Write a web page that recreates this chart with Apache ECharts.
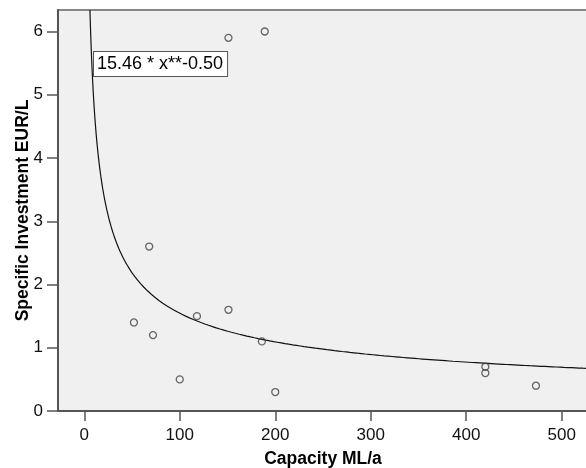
<!DOCTYPE html>
<html>
<head>
  <meta charset="UTF-8">
  <script src="https://cdn.jsdelivr.net/npm/echarts@6/dist/echarts.min.js"></script>
  <style>
    html, body { margin: 0; padding: 0; background: #fff; }
  </style>
</head>
<body>
  <div id="main" style="width: 586px; height: 468px;"></div>
  <script type="text/javascript">
    // observed points (capacity ML/a, specific investment EUR/L)
    var capacity   = [52, 68, 72, 100, 118, 151, 151, 186, 189, 200, 420, 420, 473];
    var investment = [1.4, 2.6, 1.2, 0.5, 1.5, 1.6, 5.9, 1.1, 6.0, 0.3, 0.7, 0.6, 0.4];

    // power fit shown in the chart: y = a * x ** b
    var fitA = 15.46;
    var fitB = -0.50;

    var xTicks = [0, 100, 200, 300, 400, 500];
    var yTicks = [0, 1, 2, 3, 4, 5, 6];

    var points = capacity.map(function (c, i) { return [c, investment[i]]; });

    var xMin = -27.5, xMax = 527.5, yMax = 6.34;
    var curve = [];
    var xStart = Math.pow(yMax / fitA, 1 / fitB);
    for (var x = xStart; x <= xMax; x += (x < 60 ? 0.25 : 2)) {
      curve.push([x, fitA * Math.pow(x, fitB)]);
    }
    curve.push([xMax, fitA * Math.pow(xMax, fitB)]);

    var chart = echarts.init(document.getElementById('main'));
    var font = 'Arial, "Liberation Sans", sans-serif';

    chart.setOption({
      animation: false,
      textStyle: { fontFamily: font },
      grid: {
        left: 58, right: -2, top: 10, bottom: 57,
        outerBoundsMode: 'none',
        containLabel: false,
        show: true,
        backgroundColor: '#f0f0f0',
        borderColor: '#888',
        borderWidth: 2
      },
      xAxis: {
        type: 'value',
        min: xMin, max: xMax,
        name: 'Capacity ML/a',
        nameLocation: 'middle',
        nameGap: 39,
        nameMoveOverlap: false,
        nameTextStyle: { fontSize: 17.5, fontWeight: 'bold', color: '#000', fontFamily: font },
        axisLine: { show: true, onZero: false, lineStyle: { color: '#555', width: 2 } },
        axisTick: { show: true, length: 10, customValues: xTicks, lineStyle: { color: '#555', width: 1.5 } },
        axisLabel: { customValues: xTicks, fontSize: 17, color: '#111', margin: 16 },
        splitLine: { show: false }
      },
      yAxis: {
        type: 'value',
        min: 0, max: yMax,
        name: 'Specific Investment EUR/L',
        nameLocation: 'middle',
        nameGap: 26,
        nameMoveOverlap: false,
        nameTextStyle: { fontSize: 17.5, fontWeight: 'bold', color: '#000', fontFamily: font },
        axisLine: { show: true, onZero: false, lineStyle: { color: '#555', width: 2 } },
        axisTick: { show: true, length: 11, customValues: yTicks, lineStyle: { color: '#555', width: 1.5 } },
        axisLabel: { customValues: yTicks, fontSize: 17, color: '#111', margin: 15 },
        splitLine: { show: false }
      },
      series: [
        {
          type: 'line',
          data: curve,
          showSymbol: false,
          smooth: false,
          clip: true,
          lineStyle: { color: '#111', width: 1.2 },
          z: 2
        },
        {
          type: 'scatter',
          data: points,
          symbol: 'circle',
          symbolSize: 7,
          itemStyle: { color: 'rgba(0,0,0,0)', borderColor: '#444', borderWidth: 1.3 },
          z: 3
        }
      ],
      graphic: [
        {
          type: 'text',
          left: 93, top: 51,
          z: 10,
          style: {
            text: fitA.toFixed(2) + ' * x**' + fitB.toFixed(2),
            font: '18px ' + font,
            lineHeight: 19,
            fill: '#000',
            backgroundColor: '#fff',
            borderColor: '#555',
            borderWidth: 1,
            padding: [3, 4, 2, 3]
          }
        }
      ]
    });
  </script>
</body>
</html>
